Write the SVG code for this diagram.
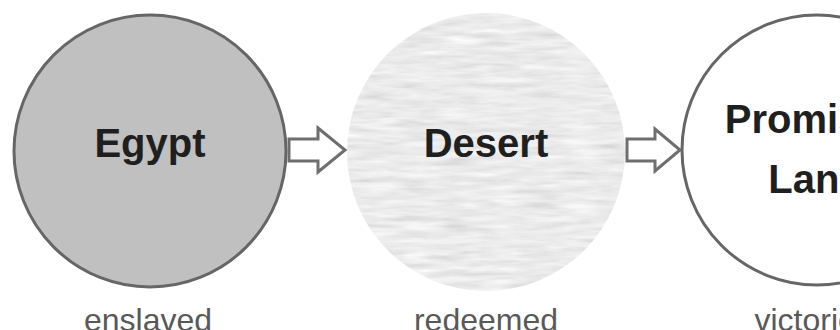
<svg xmlns="http://www.w3.org/2000/svg" width="840" height="330" viewBox="0 0 840 330">
  <style>
    .title { font-family: "Liberation Sans", Arial, sans-serif; font-weight: bold; font-size: 40px; fill: #1f1f1f; text-anchor: middle; }
    .label { font-family: "Liberation Sans", Arial, sans-serif; font-size: 32px; fill: #595959; text-anchor: middle; }
    .ring { stroke: #666666; stroke-width: 3; }
    .arrow { fill: #ffffff; stroke: #6e6e6e; stroke-width: 3; stroke-linejoin: miter; }
  </style>
  <defs>
    <filter id="sand" x="0" y="0" width="100%" height="100%">
      <feTurbulence type="fractalNoise" baseFrequency="0.025 0.18" numOctaves="3" seed="7" result="noise"/>
      <feColorMatrix in="noise" type="matrix" values="0.33 0.33 0.34 0 0  0.33 0.33 0.34 0 0  0.33 0.33 0.34 0 0  0 0 0 0 1" result="mono"/>
      <feComponentTransfer in="mono" result="gray">
        <feFuncR type="linear" slope="0.6" intercept="0.53"/>
        <feFuncG type="linear" slope="0.6" intercept="0.53"/>
        <feFuncB type="linear" slope="0.6" intercept="0.53"/>
      </feComponentTransfer>
      <feComposite in="gray" in2="SourceGraphic" operator="in"/>
    </filter>
  </defs>
  <rect width="840" height="330" fill="#ffffff"/>

  <g id="connectors">
    <path class="arrow" d="M289,139 H318 V128 L345,150 L318,172 V161 H289 Z"/>
    <path class="arrow" d="M627,139 H655 V129 L680,150 L655,171 V161 H627 Z"/>
  </g>

  <g id="egypt">
    <circle class="ring" cx="150" cy="151" r="136" fill="#c0c0c0"/>
    <text class="title" x="150" y="157">Egypt</text>
    <text class="label" x="148" y="331">enslaved</text>
  </g>

  <g id="desert">
    <circle cx="486" cy="152" r="139" fill="#d6d6d6" filter="url(#sand)"/>
    <text class="title" x="486" y="157">Desert</text>
    <text class="label" x="486" y="331">redeemed</text>
  </g>

  <g id="promised-land">
    <circle class="ring" cx="817" cy="150" r="135" fill="#ffffff"/>
    <text class="title" x="816" y="133">Promised</text>
    <text class="title" x="816" y="193">Land</text>
    <text class="label" x="822" y="331">victorious</text>
  </g>
</svg>
